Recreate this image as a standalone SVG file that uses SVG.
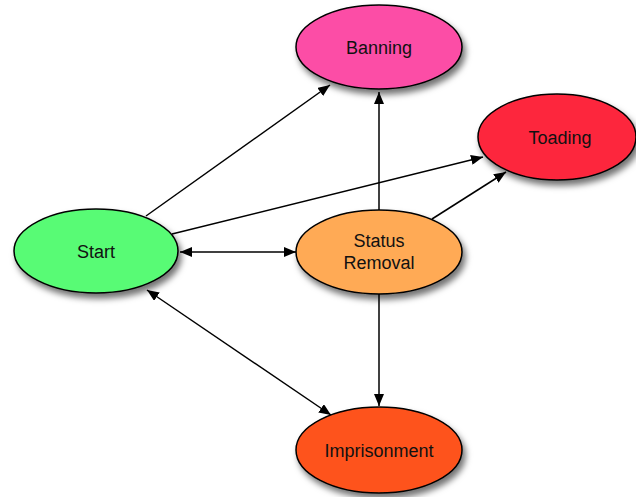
<svg xmlns="http://www.w3.org/2000/svg" width="636" height="497" viewBox="0 0 636 497">
  <style>
    .node ellipse { stroke: #000; stroke-width: 1.5; filter: url(#shadow); }
    .node text { font-family: "Liberation Sans", Arial, sans-serif; font-size: 18px; fill: #111; text-anchor: middle; }
    .edges line { stroke: #000; stroke-width: 1.5; fill: none; }
    .one { marker-end: url(#head); }
    .two { marker-start: url(#tail); marker-end: url(#head); }
  </style>
  <defs>
    <filter id="shadow" x="-20%" y="-20%" width="150%" height="160%">
      <feDropShadow dx="3" dy="5" stdDeviation="3" flood-color="#000" flood-opacity="0.55"/>
    </filter>
    <marker id="head" viewBox="0 0 12 10" refX="12" refY="5" markerWidth="12" markerHeight="10" markerUnits="userSpaceOnUse" orient="auto">
      <path d="M0,0 L12,5 L0,10 Z" fill="#000"/>
    </marker>
    <marker id="tail" viewBox="0 0 12 10" refX="0" refY="5" markerWidth="12" markerHeight="10" markerUnits="userSpaceOnUse" orient="auto">
      <path d="M12,0 L0,5 L12,10 Z" fill="#000"/>
    </marker>
  </defs>

  <g class="edges" id="edges">
    <line class="one" x1="146" y1="216" x2="330" y2="85"/>
    <line class="one" x1="172" y1="234" x2="483" y2="157"/>
    <line class="two" x1="180" y1="252" x2="296" y2="252"/>
    <line class="two" x1="147" y1="290" x2="331" y2="415"/>
    <line class="one" x1="379" y1="210" x2="379" y2="92"/>
    <line class="one" x1="432" y1="219" x2="506" y2="172"/>
    <line class="one" x1="379" y1="294" x2="379" y2="406"/>
  </g>

  <g class="node" id="banning">
    <ellipse cx="379" cy="47" rx="83" ry="42" fill="#fc4ea6"/>
    <text x="379" y="54">Banning</text>
  </g>
  <g class="node" id="toading">
    <ellipse cx="557" cy="137" rx="79" ry="43" fill="#fd283c"/>
    <text x="560" y="144">Toading</text>
  </g>
  <g class="node" id="start">
    <ellipse cx="96" cy="251" rx="82" ry="42" fill="#58fb75"/>
    <text x="96" y="258">Start</text>
  </g>
  <g class="node" id="status-removal">
    <ellipse cx="379" cy="252" rx="83" ry="42" fill="#ffaa55"/>
    <text x="379" y="247">Status</text>
    <text x="379" y="269">Removal</text>
  </g>
  <g class="node" id="imprisonment">
    <ellipse cx="379" cy="450" rx="83" ry="43" fill="#fe521e"/>
    <text x="379" y="457">Imprisonment</text>
  </g>
</svg>
